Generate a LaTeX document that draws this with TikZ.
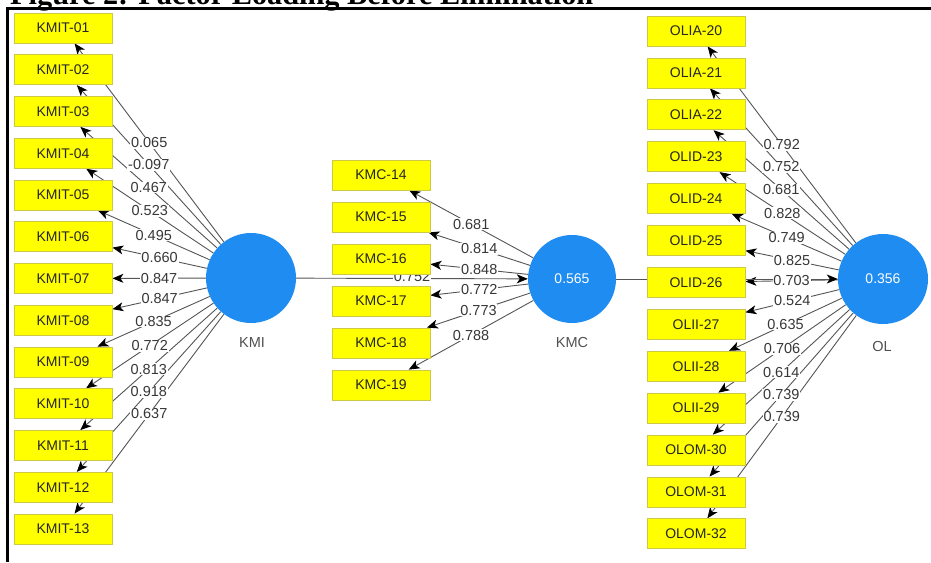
\documentclass[tikz,border=0pt]{standalone}
\usepackage{fontspec}
\setmainfont{Liberation Sans}
\newfontfamily\titlefont{Liberation Serif}
\usetikzlibrary{arrows.meta}
\definecolor{boxyellow}{RGB}{255,255,0}
\definecolor{boxedge}{RGB}{205,200,70}
\definecolor{lvblue}{RGB}{30,140,240}
\definecolor{linegray}{RGB}{85,85,85}
\definecolor{labgray}{RGB}{55,55,55}
\definecolor{namegray}{RGB}{80,80,80}
\pgfdeclarelayer{back}
\pgfdeclarelayer{mid}
\pgfsetlayers{back,mid,main}
\begin{document}
\begin{tikzpicture}[x=1pt,y=-1pt,
  indbox/.style={draw=boxedge, line width=0.8pt, fill=boxyellow, minimum width=98pt, minimum height=30pt, inner sep=0pt, font=\fontsize{14}{16}\selectfont, text=black!85},
  latent/.style={circle, fill=lvblue, minimum size=90pt, inner sep=0pt, text=white, font=\fontsize{14}{16}\selectfont},
  lvname/.style={font=\fontsize{14.5}{16}\selectfont, text=namegray},
  load/.style={draw=linegray, line width=0.9pt, -{Stealth[length=11pt,width=9pt,inset=3pt,black]}},
  lab/.style={fill=white, inner sep=0.8pt, font=\fontsize{14.5}{16}\selectfont, text=labgray},
  frameline/.style={line width=2.5pt, draw=black}
]
\useasboundingbox (0,0) rectangle (931,562);
% title (partly cut off at the top, as in the source)
\node[anchor=base west, inner sep=0pt] (title) at (10,5) {\resizebox{583pt}{!}{\titlefont\bfseries Figure 2: Factor Loading Before Elimination}};
\draw[frameline] (7.5,562) -- (7.5,8.5) -- (931,8.5);

% latent variables
\node[latent] (KMI) at (251,278) {};
\node[latent, minimum size=88pt] (KMC) at (572,279) {0.565};
\node[latent] (OL) at (883,279) {0.356};
\node[lvname] (KMIname) at (252,343) {KMI};
\node[lvname] (KMCname) at (572,343) {KMC};
\node[lvname] (OLname) at (882,347) {OL};

% indicator boxes
\foreach \t [count=\i from 0] in {01,02,03,04,05,06,07,08,09,10,11,12,13}
  \node[indbox] (KMIT\t) at (63,{28+41.75*\i}) {KMIT-\t};
\foreach \t [count=\i from 0] in {14,15,16,17,18,19}
  \node[indbox] (KMC\t) at (381,{175+42*\i}) {KMC-\t};
\foreach \t/\p [count=\i from 0] in {20/OLIA,21/OLIA,22/OLIA,23/OLID,24/OLID,25/OLID,26/OLID,27/OLII,28/OLII,29/OLII,30/OLOM,31/OLOM,32/OLOM}
  \node[indbox] (OL\t) at (696,{31+41.9*\i}) {\p-\t};

% loadings KMI
\foreach \t/\v in {01/0.065,02/-0.097,03/0.467,04/0.523,05/0.495,06/0.660,07/0.847,08/0.847,09/0.835,10/0.772,11/0.813,12/0.918,13/0.637}{
  \begin{pgfonlayer}{back}\draw[load] (KMI) -- (KMIT\t);\end{pgfonlayer}
  \begin{pgfonlayer}{mid}\path (KMI) -- node[lab] {\v} (KMIT\t);\end{pgfonlayer}
}
% loadings KMC
\foreach \t/\v in {14/0.681,15/0.814,16/0.848,17/0.772,18/0.773,19/0.788}{
  \begin{pgfonlayer}{back}\draw[load] (KMC) -- (KMC\t);\end{pgfonlayer}
  \begin{pgfonlayer}{mid}\path (KMC) -- node[lab] {\v} (KMC\t);\end{pgfonlayer}
}
% loadings OL
\foreach \t/\v in {20/0.792,21/0.752,22/0.681,23/0.828,24/0.749,25/0.825,26/0.703,27/0.524,28/0.635,29/0.706,30/0.614,31/0.739,32/0.739}{
  \begin{pgfonlayer}{back}\draw[load] (OL) -- (OL\t);\end{pgfonlayer}
  \begin{pgfonlayer}{mid}\path (OL) -- node[lab] {\v} (OL\t);\end{pgfonlayer}
}
% structural paths
\begin{pgfonlayer}{back}
  \draw[load] (KMI) -- (KMC);
  \draw[load] (KMC) -- (OL);
\end{pgfonlayer}
\begin{pgfonlayer}{mid}
  \path (KMI) -- node[lab, yshift=2pt] {0.752} (KMC);
\end{pgfonlayer}
\end{tikzpicture}
\end{document}
